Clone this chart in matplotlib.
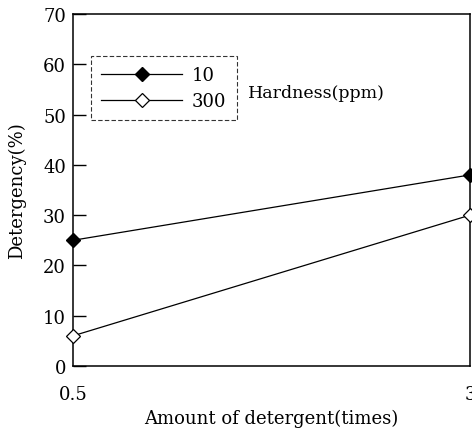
import matplotlib
matplotlib.use("Agg")
import matplotlib.pyplot as plt

amount = [0.5, 3]
hard_10 = [25, 38]
hard_300 = [6, 30]
series_labels = ["10", "300"]
y_ticks = [0, 10, 20, 30, 40, 50, 60, 70]
x_tick_labels = ["0.5", "3"]

plt.rcParams['font.family'] = ['DejaVu Serif']

W, H = 472, 431
fig = plt.figure(figsize=(W/100, H/100), dpi=100)
L, R, T, B = 73, 470, 15, 367
ax = fig.add_axes([L/W, 1 - B/H, (R - L)/W, (B - T)/H])

ax.plot(amount, hard_10, color='black', lw=0.9, marker='D', ms=7,
        mfc='black', mec='black', label=series_labels[0], clip_on=False, zorder=3)
ax.plot(amount, hard_300, color='black', lw=0.9, marker='D', ms=7,
        mfc='white', mec='black', mew=0.9, label=series_labels[1], clip_on=False, zorder=3)

ax.set_xlim(0.5, 3)
ax.set_ylim(0, 70)
ax.set_yticks(y_ticks)
ax.set_xticks(amount)
ax.set_xticklabels(x_tick_labels)
ax.tick_params(axis='y', direction='in', length=9, width=1, labelsize=13, pad=5)
ax.tick_params(axis='x', length=0, labelsize=13, pad=14)
for s in ax.spines.values():
    s.set_linewidth(1.1)

ax.set_ylabel("Detergency(%)", fontsize=13, labelpad=12)
ax.set_xlabel("Amount of detergent(times)", fontsize=13, labelpad=4)

# legend box spans x 91-238, y 57-120 (pixels)
leg = ax.legend(loc='upper left',
                bbox_to_anchor=((91 - L)/(R - L), (B - 57)/(B - T)),
                frameon=True, fancybox=False, edgecolor='black', fontsize=13,
                handlelength=4.5, borderpad=0.55, labelspacing=0.45, handletextpad=0.55,
                borderaxespad=0)
leg.get_frame().set_linestyle((0, (4, 2)))
leg.get_frame().set_linewidth(0.8)

ax.text(248/W, 1 - 94/H, "Hardness(ppm)", transform=fig.transFigure,
        fontsize=12.5, va='center', ha='left')

fig.savefig("out.png", dpi=100)
